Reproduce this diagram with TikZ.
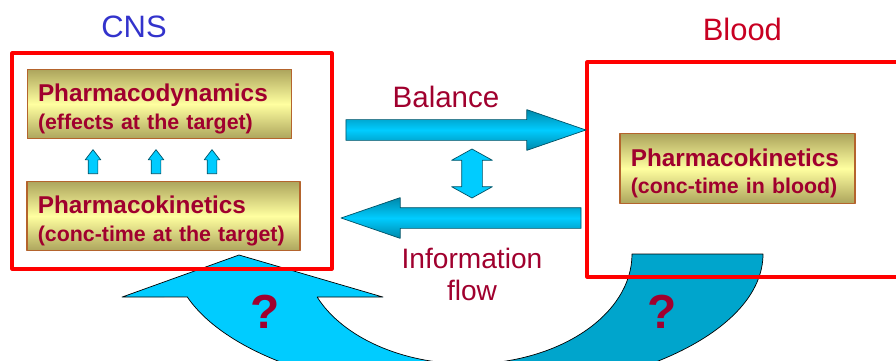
\documentclass[tikz,border=0pt]{standalone}
\usepackage{fontspec}
\setmainfont{Liberation Sans}
\usetikzlibrary{shapes.arrows, positioning, calc}
\definecolor{redframe}{HTML}{FF0000}
\definecolor{textred}{HTML}{A0002E}
\definecolor{bloodred}{HTML}{C80022}
\definecolor{cnsblue}{HTML}{3333CC}
\definecolor{boxolive}{HTML}{ACA45C}
\definecolor{boxyellow}{HTML}{FFFFA0}
\definecolor{boxedge}{HTML}{B4642D}
\definecolor{arrowcyan}{HTML}{00CCFF}
\definecolor{arrowdark}{HTML}{0088AA}
\definecolor{banddark}{HTML}{00A5CC}
\newcommand{\boxhead}{\fontsize{17.3pt}{19.5pt}\selectfont\bfseries}
\newcommand{\boxsub}{\fontsize{15.2pt}{19.5pt}\selectfont\bfseries}

\begin{document}
\begin{tikzpicture}[
    line join=round,
    boxframe/.style={draw=redframe, line width=2.2pt, inner sep=0pt},
    boxfarma/.style={draw=boxedge, line width=0.8pt, top color=boxolive, bottom color=boxolive, middle color=boxyellow, align=left, inner xsep=0.27cm, minimum height=1.7cm, text height=20pt, text depth=23pt, text=textred, font=\boxsub},
    arrowbig/.style={single arrow, draw=arrowdark!60!black, line width=0.5pt, top color=arrowdark, bottom color=arrowdark, middle color=arrowcyan, minimum height=6cm, minimum width=1cm, single arrow head extend=0.25cm, single arrow tip angle=38, inner xsep=0pt, inner ysep=0.25cm, anchor=tip},
    arrowsmall/.style={single arrow, draw=arrowdark!60!black, line width=0.5pt, fill=arrowcyan, minimum height=0.6cm, minimum width=0.375cm, single arrow head extend=0.075cm, single arrow tip angle=75, inner xsep=0pt, inner ysep=0.1125cm, rotate=90, anchor=tail},
    arrowdouble/.style={double arrow, draw=arrowdark!60!black, line width=0.5pt, fill=arrowcyan, minimum height=1.225cm, minimum width=1cm, double arrow head extend=0.25cm, double arrow tip angle=122, inner xsep=0pt, inner ysep=0.25cm, rotate=90},
    bandlight/.style={fill=arrowcyan, draw=black, line width=0.5pt},
    banddeep/.style={fill=banddark, draw=black, line width=0.5pt},
    labelred/.style={text=textred, font=\fontsize{21pt}{24pt}\selectfont}
  ]
    \useasboundingbox (0,0) rectangle (22.4,9);
    \clip (0,0) rectangle (22.4,9);

    % Banda curva (abajo)
    \filldraw[bandlight] (9.575,1.573) -- (7.929,1.573) arc[start angle=203.1, end angle=270, x radius=4.1cm, y radius=2.75cm] -- ++(0,-0.75) arc[start angle=270, end angle=197.9, x radius=7.375cm, y radius=3.5cm] -- (3.05,1.573) -- (5.975,2.625) -- cycle;
    \filldraw[banddeep] (15.8,2.65) arc[start angle=0, end angle=-90, x radius=4.1cm, y radius=2.75cm] -- ++(0,-0.75) arc[start angle=270, end angle=360, x radius=7.375cm, y radius=3.5cm] -- cycle;

    % Marcos CNS y Blood
    \node[boxframe, minimum width=8cm, minimum height=5.4cm] (CNSframe) at (4.3,4.975) {};
    \node[boxframe, minimum width=8.125cm, minimum height=5.375cm] (Bloodframe) at (18.7375,4.7625) {};
    \node[text=cnsblue, font=\fontsize{22pt}{24pt}\selectfont, anchor=base] (CNS) at (3.35,8.05) {CNS};
    \node[text=bloodred, font=\fontsize{22pt}{24pt}\selectfont, anchor=base] (Blood) at (18.56,7.975) {Blood};

    % Cajas
    \node[boxfarma, text width=6.075cm] (PD) at (3.9875,6.4) {{\boxhead Pharmacodynamics}\\{\boxsub (effects at the target)}};
    \node[boxfarma, text width=6.285cm] (PKT) at (4.0875,3.6) {{\boxhead Pharmacokinetics}\\{\boxsub (conc-time at the target)}};
    \node[boxfarma, text width=5.335cm] (PKB) at (18.4375,4.7875) {{\boxhead Pharmacokinetics}\\{\boxsub (conc-time in blood)}};

    % Flechas pequenas entre cajas
    \node[arrowsmall] (up1) at (2.325,4.65) {};
    \node[arrowsmall] (up2) at (3.9,4.65) {};
    \node[arrowsmall] (up3) at (5.3,4.65) {};

    % Flechas entre CNS y Blood
    \node[arrowbig] (Balarrow) at (14.675,5.75) {};
    \node[arrowbig, rotate=180] (Infoarrow) at (8.5,3.55) {};
    \node[arrowdouble] (Updown) at (11.8,4.6625) {};

    \node[labelred, anchor=base] (Balance) at (11.15,6.325) {Balance};
    \node[labelred, font=\fontsize{20pt}{22.7pt}\selectfont, align=center] (Info) at (11.8,2.15) {Information\\flow};

    % Interrogantes
    \node[text=textred, font=\fontsize{34pt}{36pt}\selectfont\bfseries] (Qleft) at (6.625,1.2) {?};
    \node[text=textred, font=\fontsize{34pt}{36pt}\selectfont\bfseries] (Qright) at (16.55,1.2) {?};

  \end{tikzpicture}
\end{document}
